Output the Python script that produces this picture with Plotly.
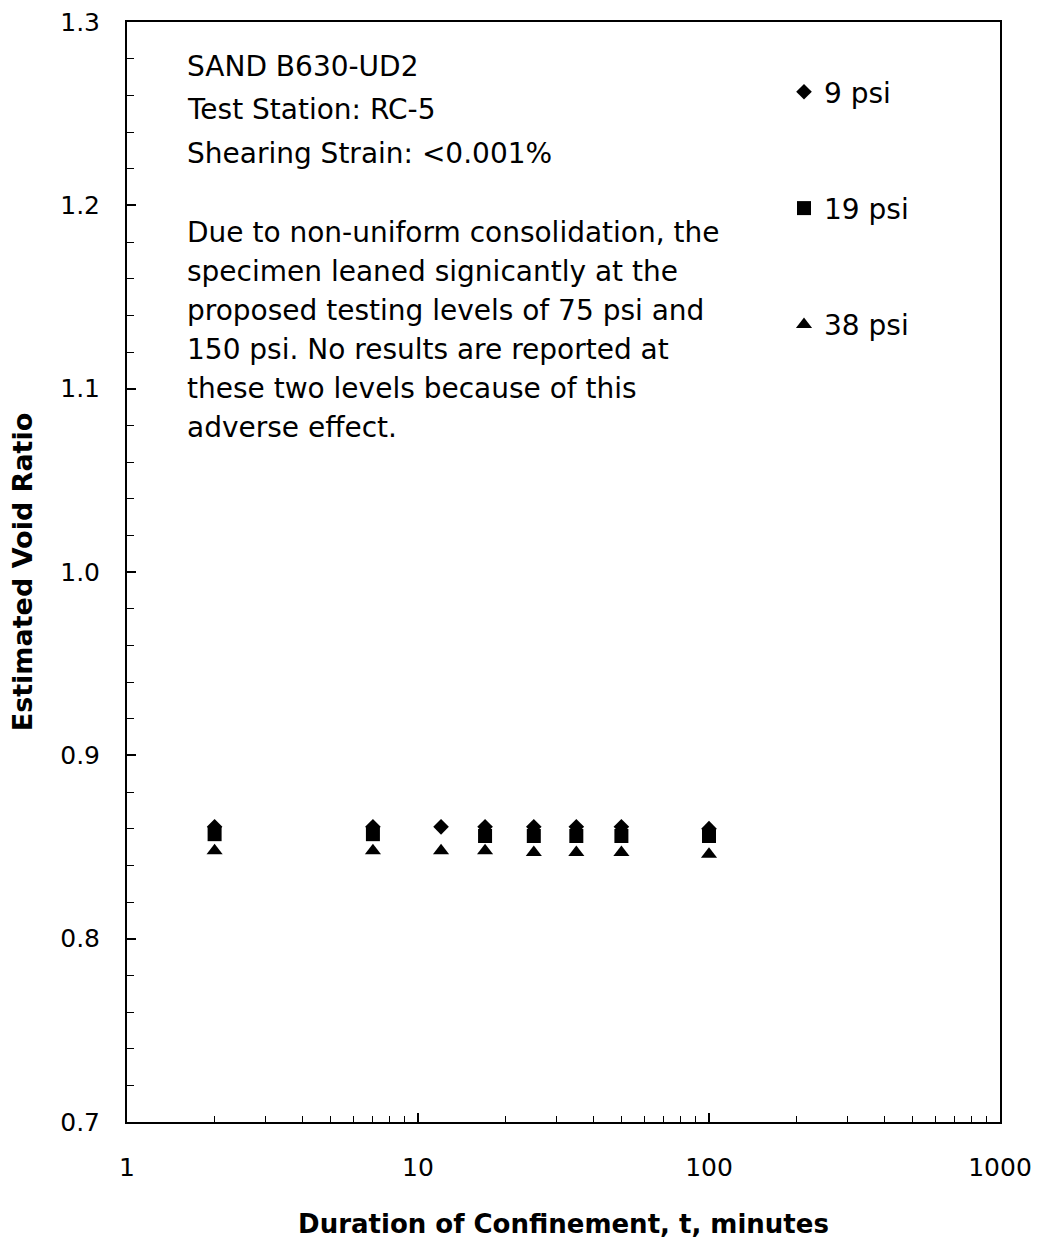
import plotly.graph_objects as go

# ---- data ----
t_9 = [2, 7, 12, 17, 25, 35, 50, 100]
e_9 = [0.861, 0.861, 0.861, 0.861, 0.861, 0.861, 0.861, 0.860]

t_19 = [2, 7, 17, 25, 35, 50, 100]
e_19 = [0.857, 0.857, 0.856, 0.856, 0.856, 0.856, 0.856]

t_38 = [2, 7, 12, 17, 25, 35, 50, 100]
e_38 = [0.848, 0.848, 0.848, 0.848, 0.847, 0.847, 0.847, 0.846]

series_names = ["9 psi", "19 psi", "38 psi"]
y_ticks = [0.7, 0.8, 0.9, 1.0, 1.1, 1.2, 1.3]
x_ticks = [1, 10, 100, 1000]

header_lines = ["SAND B630-UD2", "Test Station: RC-5", "Shearing Strain: <0.001%"]
note_lines = [
    "Due to non-uniform consolidation, the",
    "specimen leaned signicantly at the",
    "proposed testing levels of 75 psi and",
    "150 psi. No results are reported at",
    "these two levels because of this",
    "adverse effect.",
]

FONT = "DejaVu Sans, Liberation Sans, Arial, sans-serif"
TXT = 28

fig = go.Figure()
fig.add_trace(go.Scatter(x=t_9, y=e_9, mode="markers", name=series_names[0],
                         legendgroup="a",
                         marker=dict(symbol="diamond", size=12, color="black")))
fig.add_trace(go.Scatter(x=t_19, y=e_19, mode="markers", name=series_names[1],
                         legendgroup="b",
                         marker=dict(symbol="square", size=14, color="black")))
fig.add_trace(go.Scatter(x=t_38, y=e_38, mode="markers", name=series_names[2],
                         legendgroup="c",
                         marker=dict(symbol="triangle-up", size=14, color="black")))

# plot-area pixel geometry
L, R, T, B = 127, 1000, 22, 1122
W, H = 1037, 1239

def px_to_paper_y(py):
    return (B - py) / (B - T)

def px_to_paper_x(px):
    return (px - L) / (R - L)

annotations = []
header_y = [66, 110, 153]
for txt, py in zip(header_lines, header_y):
    annotations.append(dict(text=txt, x=px_to_paper_x(185), y=px_to_paper_y(py),
                            xref="paper", yref="paper", xanchor="left", yanchor="middle",
                            showarrow=False, font=dict(family=FONT, size=TXT, color="black")))
for i, txt in enumerate(note_lines):
    py = 233 + i * 38.8
    annotations.append(dict(text=txt, x=px_to_paper_x(185), y=px_to_paper_y(py),
                            xref="paper", yref="paper", xanchor="left", yanchor="middle",
                            showarrow=False, font=dict(family=FONT, size=TXT, color="black")))

fig.update_layout(
    width=W, height=H,
    margin=dict(l=L, r=W - R, t=T, b=H - B, pad=0, autoexpand=False),
    paper_bgcolor="white", plot_bgcolor="white",
    font=dict(family=FONT, size=TXT, color="black"),
    showlegend=True,
    legend=dict(x=px_to_paper_x(784), y=px_to_paper_y(67), xanchor="left", yanchor="top",
                font=dict(family=FONT, size=TXT, color="black"),
                tracegroupgap=77, bgcolor="rgba(0,0,0,0)", borderwidth=0),
    annotations=annotations,
)

fig.update_xaxes(
    type="log", range=[0, 3], automargin=False,
    tickvals=x_ticks, ticktext=[str(v) for v in x_ticks],
    ticks="inside", ticklen=9, tickwidth=1.5, tickcolor="black",
    minor=dict(ticks="inside", ticklen=6, tickwidth=1.2, tickcolor="black",
               tickvals=[m * d for d in [1, 10, 100] for m in range(2, 10)]),
    showline=True, linewidth=2, linecolor="black", mirror=True,
    showgrid=False, zeroline=False,
    ticklabelstandoff=22,
    tickfont=dict(family=FONT, size=25, color="black"),
    title=dict(text="<b>Duration of Confinement, t, minutes</b>", standoff=37,
               font=dict(family=FONT, size=26, color="black")),
)
fig.update_yaxes(
    range=[0.7, 1.3], automargin=False,
    tickvals=y_ticks, ticktext=[f"{v:.1f}" for v in y_ticks],
    ticks="inside", ticklen=9, tickwidth=1.5, tickcolor="black",
    minor=dict(ticks="inside", ticklen=7, tickwidth=1.2, tickcolor="black", dtick=0.02),
    showline=True, linewidth=2, linecolor="black", mirror=True,
    showgrid=False, zeroline=False,
    ticklabelstandoff=20,
    tickfont=dict(family=FONT, size=25, color="black"),
    title=dict(text="<b>Estimated Void Ratio</b>", standoff=20,
               font=dict(family=FONT, size=27, color="black")),
)

fig.write_html("out.html")
